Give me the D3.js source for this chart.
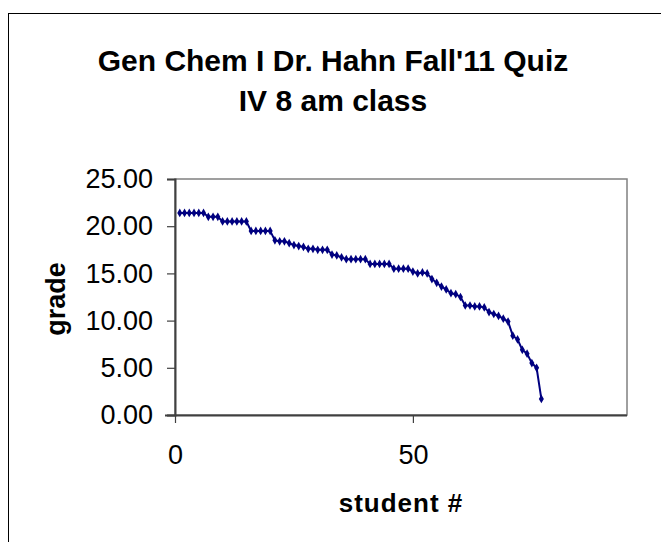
<!DOCTYPE html>
<html><head><meta charset="utf-8">
<script src="https://cdn.jsdelivr.net/npm/d3@7"></script>
<style>body{margin:0;background:#fff}svg{display:block}text{font-family:"Liberation Sans",Arial,sans-serif}</style>
</head><body>
<svg id="c" width="661" height="542"></svg>
<script>
const students = [1,2,3,4,5,6,7,8,9,10,11,12,13,14,15,16,17,18,19,20,21,22,23,24,25,26,27,28,29,30,31,32,33,34,35,36,37,38,39,40,41,42,43,44,45,46,47,48,49,50,51,52,53,54,55,56,57,58,59,60,61,62,63,64,65,66,67,68,69,70,71,72,73,74,75,76,77];
const grades = [21.4,21.4,21.4,21.4,21.4,21.4,21.0,21.0,21.0,20.5,20.5,20.5,20.5,20.5,20.5,19.5,19.5,19.5,19.5,19.5,18.5,18.4,18.4,18.2,18.0,17.9,17.8,17.6,17.6,17.5,17.5,17.5,17.0,16.9,16.7,16.5,16.5,16.5,16.5,16.5,16.0,16.0,16.0,16.0,16.0,15.5,15.5,15.5,15.5,15.2,15.0,15.1,15.0,14.4,14.0,13.6,13.3,12.9,12.8,12.5,11.6,11.6,11.5,11.5,11.4,10.9,10.7,10.5,10.2,9.9,8.4,8.0,6.9,6.5,5.5,5.0,1.7];
const xTicks = [0,50];
const yTicks = [0,5,10,15,20,25];
const titleLines = ["Gen Chem I Dr. Hahn Fall'11 Quiz","IV 8 am class"];

const svg = d3.select("#c");
svg.append("rect").attr("x",8.5).attr("y",13.5).attr("width",700).attr("height",600)
  .attr("fill","#fff").attr("stroke","#000").attr("stroke-width",1);

const L=175,R=627,T=179,B=415;
const x = d3.scaleLinear().domain([0,95]).range([L,R]);
const y = d3.scaleLinear().domain([0,25]).range([B,T]);

svg.append("rect").attr("x",L).attr("y",T).attr("width",R-L).attr("height",B-T)
  .attr("fill","none").attr("stroke","#808080").attr("stroke-width",1.5);

const yAxis = svg.append("g").attr("transform",`translate(${L},0)`)
  .call(d3.axisLeft(y).tickValues(yTicks).tickFormat(d3.format(".2f")).tickSize(8).tickPadding(14));
const xAxis = svg.append("g").attr("transform",`translate(0,${B})`)
  .call(d3.axisBottom(x).tickValues(xTicks).tickFormat(d3.format("d")).tickSize(8).tickPadding(22));
[yAxis,xAxis].forEach(g=>{
  g.select(".domain").attr("stroke","#404040").attr("stroke-width",2);
  g.selectAll(".tick line").attr("stroke","#404040").attr("stroke-width",1.2);
  g.selectAll(".tick text").attr("fill","#000").style("font-size","27px").style("font-family","'Liberation Sans',Arial,sans-serif");
});
xAxis.select(".domain").attr("d",`M${L-10},0.5H${R}`);

const pts = students.map((s,i)=>({s,g:grades[i]}));
svg.append("path").datum(pts).attr("fill","none").attr("stroke","#000080").attr("stroke-width",2)
  .attr("d",d3.line().x(d=>x(d.s)).y(d=>y(d.g)));
svg.selectAll(".m").data(pts).enter().append("path").attr("class","m")
  .attr("transform",d=>`translate(${x(d.s)},${y(d.g)})`)
  .attr("d",d3.symbol().type(d3.symbolDiamond).size(22)).attr("fill","#000080");

svg.selectAll(".t").data(titleLines).enter().append("text")
  .attr("x",333).attr("y",(d,i)=>71+i*40).attr("text-anchor","middle")
  .style("font-size","30px").style("font-weight","bold").attr("fill","#000").text(d=>d);

svg.append("text").attr("x",401).attr("y",512).attr("text-anchor","middle")
  .style("font-size","26px").style("font-weight","bold").style("letter-spacing","1px").text("student #");
svg.append("text").attr("transform","translate(65,299) rotate(-90)").attr("text-anchor","middle")
  .style("font-size","27px").style("font-weight","bold").text("grade");
</script>
</body></html>
